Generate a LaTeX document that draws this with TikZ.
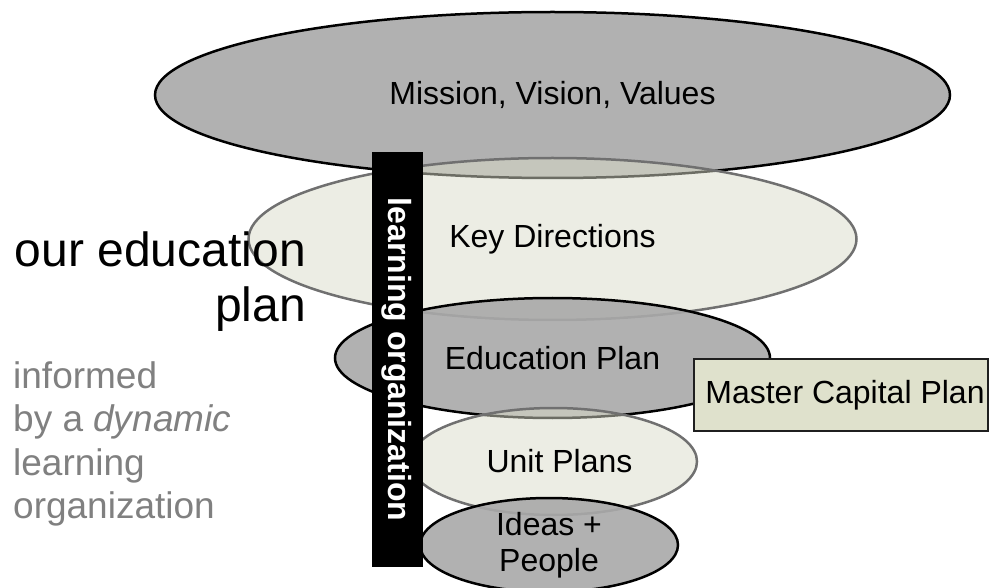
\documentclass[tikz,border=0pt]{standalone}
\usepackage{fontspec}
\setmainfont{Liberation Sans}
\usetikzlibrary{shapes.geometric}
\definecolor{grayfill}{HTML}{A9A9A9}
\definecolor{lightfill}{HTML}{D9DBC9}
\definecolor{edgegray}{HTML}{707070}
\definecolor{boxfill}{HTML}{DFE1CC}
\definecolor{sidegray}{HTML}{808080}
\begin{document}
\begin{tikzpicture}[x=1pt,y=-1pt,
  darkell/.style={ellipse, draw=black, line width=2.5pt, fill=grayfill, fill opacity=0.9, text opacity=1, inner sep=0pt, font=\fontsize{32}{36}\selectfont},
  lightell/.style={ellipse, draw=edgegray, line width=2.5pt, fill=lightfill, fill opacity=0.5, text opacity=1, inner sep=0pt, font=\fontsize{32}{36}\selectfont},
  capbox/.style={rectangle, draw=black!88, line width=2pt, fill=boxfill, inner sep=0pt, font=\fontsize{32}{36}\selectfont},
  barbox/.style={rectangle, fill=black, text=white, inner sep=0pt, font=\fontsize{32}{36}\selectfont\bfseries}]
\useasboundingbox (0,0) rectangle (989,588);
\node[darkell, minimum width=795pt, minimum height=166pt] (mission) at (552.5,95) {Mission, Vision, Values};
\node[lightell, minimum width=608pt, minimum height=162pt] (key) at (552.5,239) {Key Directions};
\node[darkell, minimum width=435pt, minimum height=120pt] (edu) at (552.5,358) {Education Plan};
\node[lightell, minimum width=287pt, minimum height=107pt] (unit) at (553.5,461.5) {\hspace{12pt}Unit Plans};
\node[darkell, minimum width=258pt, minimum height=94pt, align=center] (ideas) at (549,545) {Ideas +\\People};
\node[capbox, minimum width=294pt, minimum height=72pt] (capital) at (841,395) {\hspace{8pt}Master Capital Plan};
\node[barbox, rotate=-90, minimum width=415pt, minimum height=51pt] (bar) at (397,359.5) {learning organization};
\node[anchor=north east, inner sep=0pt, align=right, font=\fontsize{48}{55}\selectfont] (title) at (306,232) {our education\\plan};
\node[anchor=north west, inner sep=0pt, align=left, text=sidegray, font=\fontsize{37}{43.5}\selectfont] (sub) at (13,361) {informed\\by a \textit{dynamic}\\learning\\organization};
\end{tikzpicture}
\end{document}
